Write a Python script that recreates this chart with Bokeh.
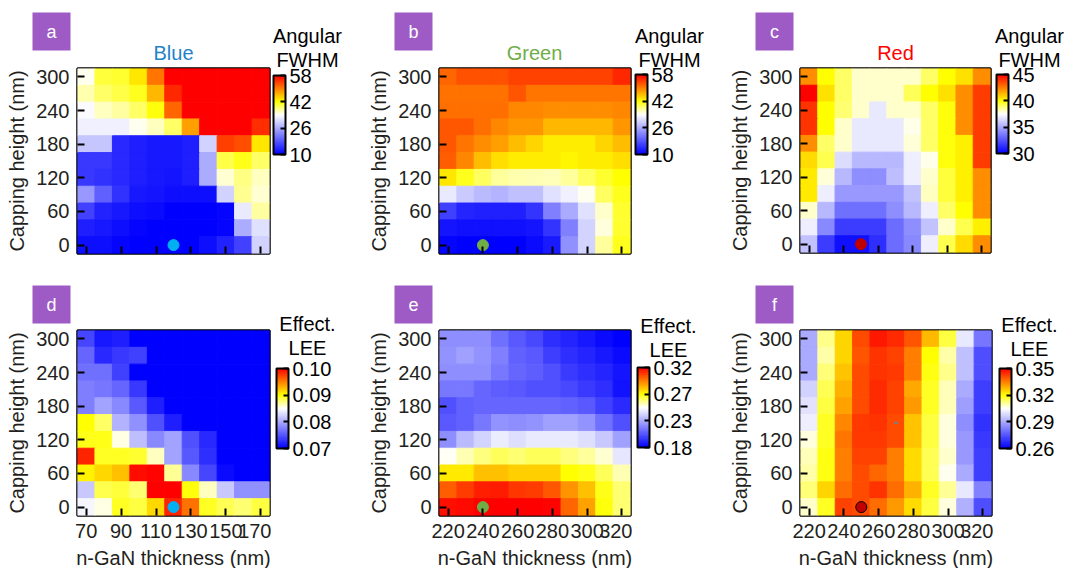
import numpy as np
from bokeh.core.properties import value
from bokeh.embed import file_html
from bokeh.resources import INLINE
from bokeh.layouts import column, row
from bokeh.plotting import figure
from bokeh.models import (ColumnDataSource, LinearColorMapper, ColorBar, FixedTicker,
                          Range1d, CustomLabelingPolicy)
from bokeh.transform import transform

capping = [300, 270, 240, 210, 180, 150, 120, 90, 60, 30, 0]
thick_blue = [70, 80, 90, 100, 110, 120, 130, 140, 150, 160, 170]
thick_long = [220, 230, 240, 250, 260, 270, 280, 290, 300, 310, 320]
y_ticks = [0, 60, 120, 180, 240, 300]
x_ticks_blue = [70, 90, 110, 130, 150, 170]
x_ticks_long = [220, 240, 260, 280, 300, 320]

fwhm_blue = [
    [34.5, 40, 40.5, 43.5, 50.5, 58, 58, 58, 58, 58, 58],
    [36.5, 38.8, 39.8, 41, 46.5, 55.5, 58, 58, 58, 58, 58],
    [33.5, 36, 36.9, 38.8, 41.5, 51.5, 58, 58, 58, 58, 58],
    [32.6, 32.6, 32.6, 34.5, 35.9, 38.8, 48, 58, 58, 58, 55],
    [28.7, 28.7, 13.8, 12.9, 12.4, 12.4, 12.9, 29.7, 54, 53, 43.5],
    [15.3, 15.3, 13.8, 12.9, 12.4, 12.4, 12.9, 26.3, 39.8, 41.2, 38.8],
    [15.3, 14.8, 13.8, 12.9, 12.4, 12, 12.9, 26.3, 35.4, 37.8, 35.9],
    [24.4, 19.1, 14.8, 12.4, 12, 11.4, 11.4, 11.4, 29.7, 37.4, 35.4],
    [16.2, 13.2, 12.4, 11.4, 11, 10, 10, 10, 10.5, 32.1, 36.9],
    [12.9, 12.4, 11.4, 10.5, 10, 10, 10, 10, 10.5, 26.3, 31.1],
    [11.4, 11.4, 10.5, 10, 10, 10, 10, 11.4, 13.2, 16.2, 29.7],
]
fwhm_green = [
    [51.5, 52.8, 52.8, 52.8, 53.7, 53.7, 53.7, 53.7, 53.7, 53.7, 55.5],
    [50.8, 50.8, 50.8, 50.8, 52.6, 50.5, 50.5, 50.5, 50.5, 50.5, 50.5],
    [51, 51, 51, 51, 49.5, 49.5, 49, 49, 49, 49, 49.5],
    [52.5, 52.5, 51, 49.5, 48.5, 48.5, 46.5, 46.5, 46.5, 46.5, 48.5],
    [52.5, 50.5, 49, 48, 46, 44.5, 43, 43, 43, 44.5, 46],
    [52, 49.5, 46, 44, 43, 43, 43, 42.5, 43, 43, 44],
    [43.5, 41, 39, 37, 36.5, 36.3, 36.2, 37, 39, 40.5, 42],
    [32, 29, 27.5, 27, 28, 28, 31, 32.5, 34.5, 39, 41],
    [16, 13.5, 13, 13, 13, 15, 22, 26, 31, 35.5, 40.5],
    [12, 11.5, 11.5, 11.5, 11.5, 12, 15, 22, 30, 35, 40.5],
    [10.5, 10, 10, 10, 10, 11, 12.5, 23.5, 30, 37, 41],
]
fwhm_red = [
    [42.2, 40, 39, 38, 38, 38, 38, 39, 40, 40.6, 42.2],
    [45, 40.6, 39, 38, 38, 38, 39.1, 40, 40.6, 42.2, 43.8],
    [44, 40, 38.9, 38, 36.8, 38, 38, 39, 39.9, 42.2, 43.8],
    [44, 40, 38, 36.8, 36.8, 36.8, 37.7, 39, 39.9, 42.2, 43.8],
    [42.2, 39, 38, 36.8, 36.8, 36.8, 37.9, 39, 39.9, 40.3, 43.8],
    [40.7, 39.2, 36.5, 35.4, 35.4, 35.4, 37, 37.7, 39.9, 40.3, 43.8],
    [40.4, 37.9, 35.4, 34.2, 34.2, 35.6, 37, 38, 39.4, 40.3, 42.2],
    [40.4, 37, 34.5, 34.5, 34.5, 34.5, 35.7, 38.1, 39.4, 40.3, 42.2],
    [38, 35.4, 33.3, 33.3, 33.3, 34.2, 35.4, 37, 39, 40, 42.2],
    [37, 34, 31.8, 31.8, 31.8, 33.2, 34.2, 35.7, 38, 39.2, 40.3],
    [35.7, 31.8, 30.5, 30.5, 31.4, 33.2, 34, 37, 39.2, 40.7, 42.2],
]
lee_blue = [
    [.0742, .0715, .0718, .07, .07, .07, .07, .07, .07, .07, .07],
    [.076, .0724, .0733, .0738, .07, .07, .07, .07, .07, .07, .07],
    [.0766, .0766, .0738, .07, .07, .07, .07, .07, .07, .07, .07],
    [.0775, .077, .076, .0733, .07, .07, .07, .07, .07, .07, .07],
    [.0775, .0795, .078, .0753, .0718, .07, .07, .07, .07, .07, .07],
    [.09, .088, .0805, .0785, .0748, .0718, .07, .07, .07, .07, .07],
    [.0895, .0895, .0855, .0812, .078, .0795, .0748, .0724, .07, .07, .07],
    [.0985, .0893, .0893, .089, .0862, .0795, .0752, .0728, .07, .07, .07],
    [.0905, .0915, .0925, .0995, .0998, .087, .078, .0742, .0706, .07, .07],
    [.0818, .0885, .0888, .0878, .1, .1, .0897, .0862, .0818, .0785, .0785],
    [.0845, .0855, .0893, .0887, .0915, .0985, .0955, .0893, .0883, .0878, .0887],
]
lee_green = [
    [.219, .219, .219, .211, .205, .2, .193, .19, .187, .183, .18],
    [.221, .224, .221, .215, .207, .205, .197, .193, .19, .187, .183],
    [.219, .219, .219, .213, .208, .206, .202, .196, .193, .19, .186],
    [.213, .213, .208, .206, .205, .202, .202, .2, .196, .193, .185],
    [.202, .207, .208, .208, .208, .208, .208, .207, .205, .198, .192],
    [.205, .207, .213, .221, .219, .221, .224, .224, .221, .211, .202],
    [.219, .231, .238, .245, .241, .244, .244, .244, .241, .235, .224],
    [.251, .257, .262, .265, .263, .265, .265, .262, .259, .254, .243],
    [.277, .277, .285, .285, .282, .282, .282, .273, .271, .265, .257],
    [.303, .309, .314, .315, .31, .309, .304, .293, .285, .271, .263],
    [.317, .318, .32, .32, .32, .32, .319, .301, .29, .272, .263],
]
lee_red = [
    [.29, .312, .325, .341, .347, .345, .34, .328, .316, .301, .281],
    [.29, .31, .325, .34, .344, .342, .335, .32, .31, .294, .274],
    [.29, .313, .327, .341, .344, .343, .335, .319, .312, .294, .274],
    [.297, .315, .329, .341, .345, .342, .33, .318, .309, .29, .271],
    [.3, .316, .331, .341, .345, .342, .332, .318, .309, .288, .271],
    [.302, .318, .334, .343, .344, .341, .327, .316, .307, .285, .269],
    [.307, .318, .336, .343, .343, .341, .327, .316, .307, .287, .27],
    [.309, .319, .335, .342, .342, .335, .324, .315, .308, .287, .271],
    [.31, .319, .335, .341, .338, .335, .324, .315, .306, .29, .271],
    [.313, .325, .337, .341, .344, .337, .329, .318, .311, .301, .283],
    [.308, .318, .342, .341, .337, .332, .324, .316, .307, .291, .274],
]

FONT = "Liberation Sans"
INK = "#231f20"
FS = "20px"
PAD = 2

stops = [0, .5, .667, 1]
rs = np.interp(np.linspace(0, 1, 256), stops, [0, 255, 255, 255])
gs = np.interp(np.linspace(0, 1, 256), stops, [0, 255, 255, 0])
bs = np.interp(np.linspace(0, 1, 256), stops, [255, 255, 0, 0])
palette = ["#%02x%02x%02x" % (int(r), int(g), int(b)) for r, g, b in zip(rs, gs, bs)]

ROW1 = (0, 276)
ROW2 = (276, 568)
COLS = [(0, 358), (358, 718), (718, 1067)]


def strip(x0, x1, y0, y1):
    """Figure without axes whose data coordinates are page pixels."""
    s = figure(width=x1 - x0, height=y1 - y0, x_range=Range1d(x0, x1), y_range=Range1d(y1, y0),
               x_axis_location=None, y_axis_location=None, min_border=0, frame_align=False,
               output_backend="svg", toolbar_location=None)
    s.outline_line_color = None
    s.grid.visible = False
    return s


def put(s, t, x, y, color="black", size=FS):
    s.text([x], [y], text=[t], text_font=value(FONT), text_font_size=value(size), text_color=color,
           text_align="center", text_baseline="middle")


def panel(letter, col, rw, xs, vals, xticks, frame, cbar, lo, hi, ticks, tick_text,
          head, head_x, head_y, badge_x, badge_y, marker, mcolor, mline,
          title=None, title_color=None, title_x=None, xlabel=False):
    cx0, cx1 = COLS[col]
    cy0, cy1 = rw
    fl, fr, ft, fb = frame
    p = figure(width=fr + PAD - cx0, height=cy1 - ft + PAD, frame_width=fr - fl, frame_height=fb - ft,
               min_border_left=fl - cx0, min_border_right=PAD,
               min_border_top=PAD, min_border_bottom=cy1 - fb, frame_align=False,
               x_range=Range1d(xs[0] - 5, xs[-1] + 5), y_range=Range1d(-15, 315),
               output_backend="svg", toolbar_location=None, background_fill_color="white")
    mapper = LinearColorMapper(palette=palette, low=lo, high=hi)
    X = [x for _ in capping for x in xs]
    Y = [c for c in capping for _ in xs]
    V = [v for r in vals for v in r]
    src = ColumnDataSource(dict(x=X, y=Y, v=V))
    p.rect("x", "y", width=10, height=30, source=src,
           fill_color=transform("v", mapper), line_color=transform("v", mapper), line_width=1)
    p.grid.visible = False
    p.outline_line_color = "black"
    p.outline_line_width = 2.5
    for ax, tk in ((p.xaxis[0], xticks), (p.yaxis[0], y_ticks)):
        ax.ticker = FixedTicker(ticks=tk)
        ax.major_tick_in = 7
        ax.major_tick_out = 0
        ax.minor_tick_line_color = None
        ax.major_tick_line_width = 2
        ax.major_tick_line_color = "black"
        ax.axis_line_color = None
        ax.major_label_text_font = FONT
        ax.major_label_text_font_size = FS
        ax.major_label_text_color = INK
        ax.axis_label_text_font = FONT
        ax.axis_label_text_font_size = FS
        ax.axis_label_text_font_style = "normal"
        ax.axis_label_text_color = INK
    p.yaxis[0].axis_label = "Capping height (nm)"
    p.yaxis[0].major_label_standoff = 8
    p.yaxis[0].axis_label_standoff = 5
    p.yaxis[0].major_label_orientation = "horizontal"
    if xlabel:
        p.xaxis[0].axis_label = "n-GaN thickness (nm)"
        p.xaxis[0].major_label_standoff = 8
        p.xaxis[0].axis_label_standoff = 6
    else:
        p.xaxis[0].major_label_policy = CustomLabelingPolicy(code="")
        p.xaxis[0].major_label_standoff = 0

    p.scatter([marker[0]], [0], size=11, fill_color=mcolor, line_color=mline, line_width=1)

    # strip above the heat map: badge and title
    top = strip(cx0, fr + PAD, cy0, ft - PAD)
    top.quad(left=[badge_x], right=[badge_x + 38], top=[badge_y], bottom=[badge_y + 38],
             fill_color="#9e5bc6", line_color=None)
    put(top, letter, badge_x + 19, badge_y + 19, "white", "18px")
    if title:
        put(top, title, title_x, 52, title_color)

    # strip to the right: colour bar and its heading
    side = strip(fr + PAD, cx1, cy0, cy1)
    put(side, head[0], head_x, head_y[0])
    put(side, head[1], head_x, head_y[1])
    bl, br, bt, bb = cbar
    cb = ColorBar(color_mapper=mapper, ticker=FixedTicker(ticks=ticks),
                  major_label_overrides=tick_text, location=(bl - fr - PAD, cy1 - bb),
                  width=br - bl, height=bb - bt, padding=0, margin=0,
                  background_fill_alpha=0, border_line_color=None,
                  bar_line_color="black", bar_line_width=2,
                  major_tick_line_color="black", major_tick_line_width=2,
                  major_tick_in=5, minor_tick_line_color=None, label_standoff=4,
                  major_label_text_font=FONT, major_label_text_font_size=FS,
                  major_label_text_color="black")
    side.add_layout(cb, "center")
    return row(column(top, p, spacing=0), side, spacing=0), p


xa = x_ticks_blue
pa, _ = panel("a", 0, ROW1, thick_blue, fwhm_blue, xa, (77, 269, 68, 253), (273, 285, 75, 154), 10, 58,
              [10, 26, 42, 58], {}, ("Angular", "FWHM"), 307, (35, 59), 32, 12, (120,), "#00b0f0", "#00b0f0",
              "Blue", "#1f83c8", 173)
pb, _ = panel("b", 1, ROW1, thick_long, fwhm_green, x_ticks_long, (439, 630, 68, 253), (635, 647, 74, 154), 10, 58,
              [10, 26, 42, 58], {}, ("Angular", "FWHM"), 669, (35, 59), 394, 12, (240,), "#70ad47", "#70ad47",
              "Green", "#70ad47", 534)
pc, _ = panel("c", 2, ROW1, thick_long, fwhm_red, x_ticks_long, (800, 990, 68, 252), (996, 1008, 74, 153), 30, 45,
              [30, 35, 40, 45], {}, ("Angular", "FWHM"), 1029, (35, 59), 755, 12, (250,), "#c00000", "#c00000",
              "Red", "#ff0000", 895)
pd_, _ = panel("d", 0, ROW2, thick_blue, lee_blue, xa, (77, 269, 330, 515), (276, 288, 368, 448), .07, .10,
               [.07, .08, .09, .10], {.07: "0.07", .08: "0.08", .09: "0.09", .1: "0.10"},
               ("Effect.", "LEE"), 307, (323, 347), 32, 285, (120,), "#00b0f0", "#00b0f0", xlabel=True)
pe, _ = panel("e", 1, ROW2, thick_long, lee_green, x_ticks_long, (439, 630, 330, 515), (637, 649, 367, 447), .18, .32,
              [.18, .2267, .2733, .32], {.18: "0.18", .2267: "0.23", .2733: "0.27", .32: "0.32"},
              ("Effect.", "LEE"), 668, (325, 349), 394, 285, (240,), "#70ad47", "#70ad47", xlabel=True)
pf, pf_main = panel("f", 2, ROW2, thick_long, lee_red, x_ticks_long, (800, 991, 330, 515), (999, 1011, 368, 448), .26, .35,
                    [.26, .29, .32, .35], {.26: "0.26", .29: "0.29", .32: "0.32", .35: "0.35"},
                    ("Effect.", "LEE"), 1029, (324, 348), 755, 285, (250,), "#c00000", "black", xlabel=True)
pf_main.scatter([270], [150], size=2.5, fill_color="#1fa0e0", line_color=None)

layout = column(row(pa, pb, pc, spacing=0), row(pd_, pe, pf, spacing=0), spacing=0)
open("out.html", "w").write(file_html(layout, INLINE))
